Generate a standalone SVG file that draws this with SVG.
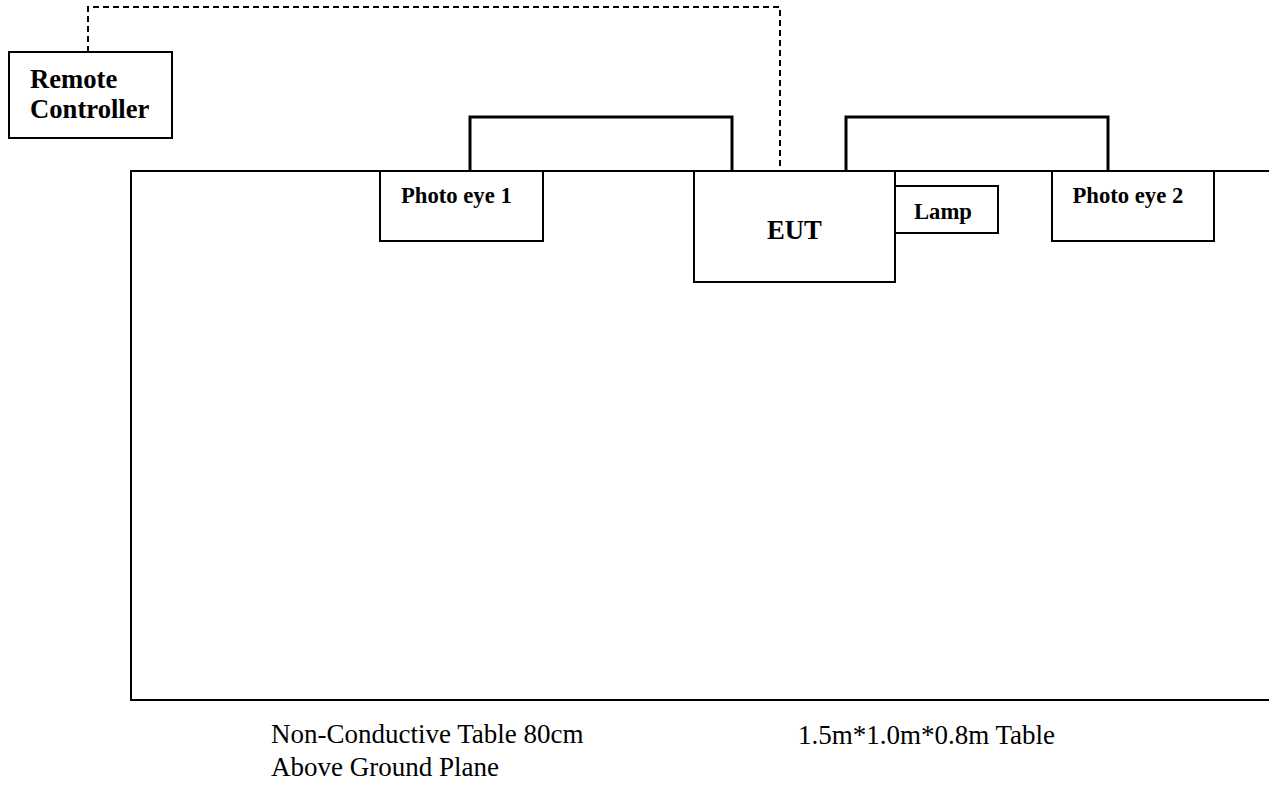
<svg xmlns="http://www.w3.org/2000/svg" width="1269" height="785" viewBox="0 0 1269 785">
<style>
.box{fill:#fff;stroke:#000;stroke-width:2}
.lbl{font-family:"Liberation Serif","Times New Roman",serif;font-weight:bold;fill:#000}
.note{font-family:"Liberation Serif","Times New Roman",serif;font-size:27px;fill:#000}
.cable{fill:none;stroke:#000;stroke-width:3}
.dash{fill:none;stroke:#000;stroke-width:2;stroke-dasharray:6 4}
</style>
<rect width="1269" height="785" fill="#fff"/>
<g id="table">
<rect x="131" y="171" width="1160" height="529" fill="#fff" stroke="#000" stroke-width="2"/>
</g>
<g id="connectors">
<polyline class="cable" points="470,171 470,117 732,117 732,171"/>
<polyline class="cable" points="846,171 846,117 1108,117 1108,171"/>
<polyline class="dash" points="88,52 88,7 780,7 780,171"/>
</g>
<g id="remote">
<rect class="box" x="9" y="52" width="163" height="86"/>
<text class="lbl" x="30" y="88" font-size="26.67">Remote</text>
<text class="lbl" x="30" y="118" font-size="26.67">Controller</text>
</g>
<g id="photo-eye-1">
<rect class="box" x="380" y="171" width="163" height="70"/>
<text class="lbl" x="401" y="203" font-size="22.67">Photo eye 1</text>
</g>
<g id="eut">
<rect class="box" x="694" y="171" width="201" height="111"/>
<text class="lbl" x="794.5" y="239" font-size="26.67" text-anchor="middle">EUT</text>
</g>
<g id="lamp">
<rect class="box" x="895" y="186" width="103" height="47"/>
<text class="lbl" x="914" y="219" font-size="22.67">Lamp</text>
</g>
<g id="photo-eye-2">
<rect class="box" x="1052" y="171" width="162" height="70"/>
<text class="lbl" x="1072.5" y="203" font-size="22.67">Photo eye 2</text>
</g>
<g id="notes">
<text class="note" x="271" y="743">Non-Conductive Table 80cm</text>
<text class="note" x="271" y="776">Above Ground Plane</text>
<text class="note" x="798" y="744">1.5m*1.0m*0.8m Table</text>
</g>
</svg>
